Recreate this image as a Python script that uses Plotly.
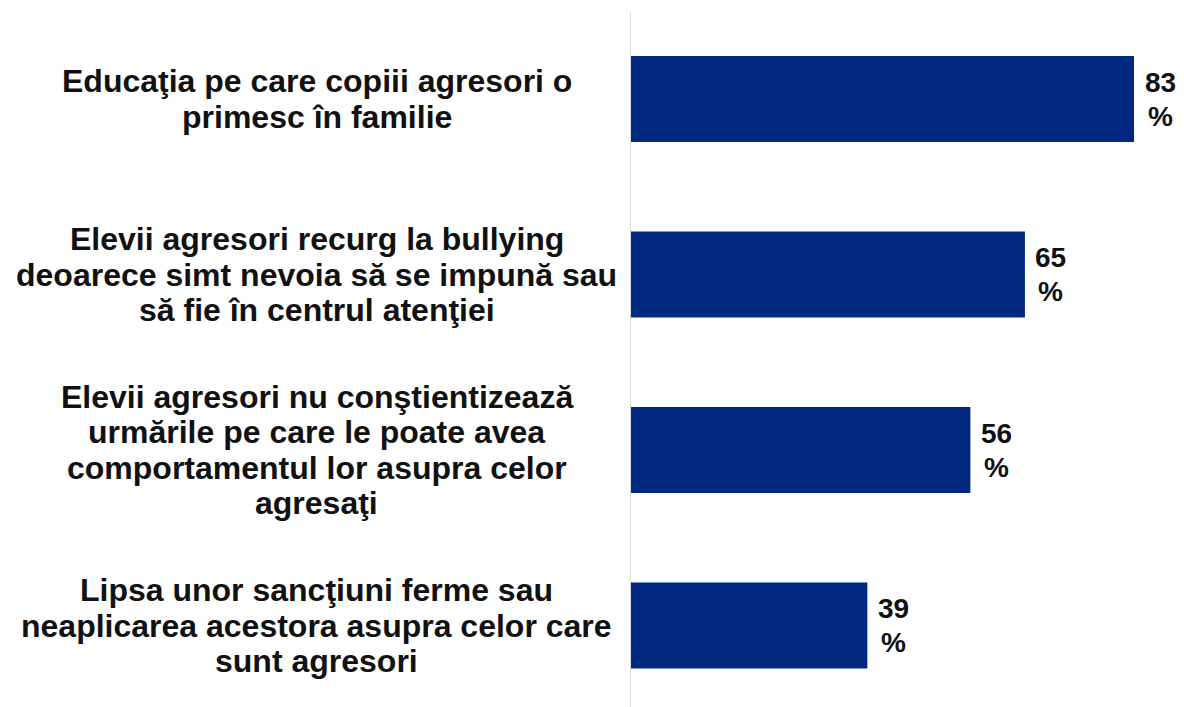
import plotly.graph_objects as go

categories = [
    ["Educaţia pe care copiii agresori o", "primesc în familie"],
    ["Elevii agresori recurg la bullying", "deoarece simt nevoia să se impună sau", "să fie în centrul atenţiei"],
    ["Elevii agresori nu conştientizează", "urmările pe care le poate avea", "comportamentul lor asupra celor", "agresaţi"],
    ["Lipsa unor sancţiuni ferme sau", "neaplicarea acestora asupra celor care", "sunt agresori"],
]
values = [83, 65, 56, 39]
value_suffix = "%"

cat_keys = [" ".join(c) for c in categories]

BAR_COLOR = "#00297f"
FONT = "Liberation Sans, Arial, sans-serif"
LABEL_SIZE = 32
LINE_SP = 35.5
VAL_SIZE = 28
VAL_LS = 34

fig = go.Figure(go.Bar(
    x=values, y=cat_keys, orientation="h",
    marker=dict(color=BAR_COLOR, line=dict(width=0)),
    width=0.49, hoverinfo="skip",
))

ann = []
for key, lines in zip(cat_keys, categories):
    n = len(lines)
    for i, ln in enumerate(lines):
        ann.append(dict(
            x=-0.568, xref="paper", y=key, yref="y",
            text=ln, showarrow=False, xanchor="center", yanchor="middle",
            yshift=((n - 1) / 2 - i) * LINE_SP,
            font=dict(family=FONT, size=LABEL_SIZE, color="#111111", weight="bold"),
        ))
for key, v in zip(cat_keys, values):
    for i, t in enumerate([str(v), value_suffix]):
        ann.append(dict(
            x=v, xref="x", y=key, yref="y", text=t, showarrow=False,
            xanchor="center", yanchor="middle", xshift=26,
            yshift=(0.5 - i) * VAL_LS,
            font=dict(family=FONT, size=VAL_SIZE, color="#111111", weight="bold"),
        ))

fig.update_layout(
    width=1184, height=707,
    margin=dict(l=631, r=0, t=12, b=0),
    paper_bgcolor="white", plot_bgcolor="white",
    showlegend=False,
    annotations=ann,
    xaxis=dict(range=[0, 91.25], visible=False, fixedrange=True),
    yaxis=dict(
        categoryorder="array", categoryarray=cat_keys,
        range=[3.464, -0.496], fixedrange=True,
        showticklabels=False, ticks="", showgrid=False, zeroline=False,
        showline=True, linecolor="#d9d9d9", linewidth=1.5,
    ),
)

fig.write_html(
    "out.html",
    config={"displayModeBar": False, "staticPlot": True},
    post_script="document.body.style.margin='0';document.body.style.overflow='hidden';",
)
